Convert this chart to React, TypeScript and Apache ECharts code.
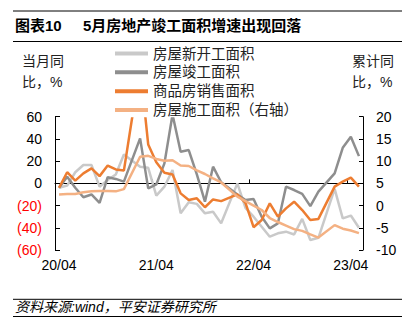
import { useEffect, useRef } from 'react';
import * as echarts from 'echarts';

const FONT = "'Liberation Sans', 'Noto Sans CJK SC', sans-serif";

const categories = [
  '20/04', '20/05', '20/06', '20/07', '20/08', '20/09', '20/10', '20/11', '20/12',
  '21/01', '21/02', '21/03', '21/04', '21/05', '21/06', '21/07', '21/08', '21/09', '21/10', '21/11', '21/12',
  '22/01', '22/02', '22/03', '22/04', '22/05', '22/06', '22/07', '22/08', '22/09', '22/10', '22/11', '22/12',
  '23/01', '23/02', '23/03', '23/04', '23/05',
];

const seriesNames = ['房屋新开工面积', '房屋竣工面积', '商品房销售面积', '房屋施工面积（右轴）'];
const seriesColors = ['#c9c9c9', '#8e8e8e', '#ed7d31', '#f4b183'];

// 当月同比, % (left axis)
const newStarts = [-4, -2, 10, 16.5, 16.5, -3, 3, 8, 26, null, 15, 14, -11, -3, 12, -27, -17, -18.5, -27, -25.5, -36, null, 0, -22, -30, -39, -48, -45, -43.5, -46, -32, -51, -49, null, -5, -31.5, -29, -40];
const completions = [-4, 6, -4, -12.5, -10, -17.5, 5.5, 4, 1.5, null, 40.5, -4.5, -1, 18, 62, 28.5, 30, 8, -16.5, 15, 1, null, -10, -15, -14, -30, -40.5, -36, -3, -6, -9.5, -20.5, -7.5, null, 9, 32, 42, 24.5];
const sales = [-4, 10, 2.5, 9, 13.5, 6.5, 16, 12.5, 11.5, null, 105, 35, 19, 9.5, 8, -9, -15, -13.5, -21.5, -14.5, -16, null, -10, -17.5, -39.5, -33, -18, -30, -22.5, -16.5, -24, -33, -32, null, -3, 1.5, 5.2, -3];
// 累计同比, % (right axis)
const underConstruction = [2.5, 2.6, 2.6, 3.0, 3.2, 3.3, 3.3, 3.2, 3.7, null, 11.0, 11.2, 10.5, 10.1, 10.2, 9.0, 8.9, 7.9, 7.1, 6.1, 5.2, null, 2.0, 1.0, 0.0, -1.0, -2.8, -3.7, -4.5, -5.3, -5.7, -6.5, -7.2, null, -4.4, -5.2, -5.6, -6.2];

const leftTicks = { min: -60, max: 60, interval: 20 };
const rightTicks = { min: -10, max: 20, interval: 5 };

const seriesData = [newStarts, completions, sales, underConstruction];
const seriesAxis = [0, 0, 0, 1];

export default function App() {
  const ref = useRef<HTMLDivElement>(null);
  useEffect(() => {
    const chart = echarts.init(ref.current!, null, { renderer: 'svg' });
    const option: any = {
      animation: false,
      backgroundColor: '#fff',
      textStyle: { fontFamily: FONT },
      grid: { left: 55, right: 56, top: 116.7, bottom: 76, containLabel: false },
      legend: {
        data: seriesNames,
        orient: 'vertical',
        left: 115,
        top: 46.3,
        padding: 0,
        itemGap: 4.3,
        itemWidth: 33,
        itemHeight: 4,
        icon: 'rect',
        backgroundColor: '#fff',
        textStyle: { fontSize: 14.5, color: '#222', fontFamily: FONT, lineHeight: 14 },
      },
      xAxis: [
        {
          type: 'category',
          data: categories,
          position: 'bottom',
          axisLine: { show: true, onZero: true, onZeroAxisIndex: 0, lineStyle: { color: '#000', width: 1 } },
          axisTick: { show: true, inside: true, length: 4, interval: 11, lineStyle: { color: '#000' } },
          axisLabel: { show: false },
          splitLine: { show: false },
        },
        {
          type: 'category',
          data: categories,
          position: 'bottom',
          axisLine: { show: false, onZero: false },
          axisTick: { show: false },
          axisLabel: { show: true, interval: 11, margin: 8, fontSize: 14, color: '#000', fontFamily: FONT },
          splitLine: { show: false },
        },
      ],
      yAxis: [
        {
          type: 'value',
          min: leftTicks.min,
          max: leftTicks.max,
          interval: leftTicks.interval,
          position: 'left',
          axisLine: { show: true, onZero: false, lineStyle: { color: '#000', width: 1 } },
          axisTick: { show: true, inside: true, length: 5, lineStyle: { color: '#000' } },
          splitLine: { show: false },
          axisLabel: {
            margin: 13,
            fontSize: 14,
            color: '#000',
            fontFamily: FONT,
            formatter: (v: number) => (v < 0 ? `{neg|(${-v})}` : `${v}`),
            rich: { neg: { color: '#ff0000', fontSize: 14, fontFamily: FONT } },
          },
        },
        {
          type: 'value',
          min: rightTicks.min,
          max: rightTicks.max,
          interval: rightTicks.interval,
          position: 'right',
          axisLine: { show: true, onZero: false, lineStyle: { color: '#000', width: 1 } },
          axisTick: { show: true, inside: true, length: 4, lineStyle: { color: '#000' } },
          splitLine: { show: false },
          axisLabel: { margin: 13, fontSize: 14, color: '#000', fontFamily: FONT },
        },
      ],
      series: seriesNames.map((name, i) => ({
        name,
        type: 'line',
        data: seriesData[i],
        xAxisIndex: 0,
        yAxisIndex: seriesAxis[i],
        connectNulls: true,
        symbol: 'none',
        showSymbol: false,
        clip: false,
        lineStyle: { width: 2.5, color: seriesColors[i] },
        itemStyle: { color: seriesColors[i] },
        z: 2 + i * 0.1,
      })),
      graphic: [
        { type: 'line', shape: { x1: 13, y1: 11, x2: 402, y2: 11 }, style: { stroke: '#000', lineWidth: 1 } },
        {
          type: 'text', x: 15, y: 25,
          style: { text: '图表10', font: `bold 15px ${FONT}`, fill: '#000', verticalAlign: 'middle' },
        },
        {
          type: 'text', x: 83, y: 25,
          style: { text: '5月房地产竣工面积增速出现回落', font: `bold 15px ${FONT}`, fill: '#000', verticalAlign: 'middle' },
        },
        { type: 'line', shape: { x1: 13, y1: 41.5, x2: 402, y2: 41.5 }, style: { stroke: '#000', lineWidth: 1 } },
        {
          type: 'text', x: 22, y: 50.5,
          style: { text: '当月同\n比，%', font: `14px ${FONT}`, lineHeight: 21, fill: '#222', verticalAlign: 'top' },
        },
        {
          type: 'text', x: 352, y: 50.5,
          style: { text: '累计同\n比，%', font: `14px ${FONT}`, lineHeight: 21, fill: '#222', verticalAlign: 'top' },
        },
        { type: 'line', shape: { x1: 13, y1: 299.3, x2: 402, y2: 299.3 }, style: { stroke: '#000', lineWidth: 1 } },
        {
          type: 'text', x: 15, y: 307,
          style: { text: '资料来源:wind，平安证券研究所', font: `italic 14px ${FONT}`, fill: '#000', verticalAlign: 'middle' },
        },
        { type: 'line', shape: { x1: 13, y1: 316.5, x2: 402, y2: 316.5 }, style: { stroke: '#000', lineWidth: 1 } },
      ],
    };
    chart.setOption(option);
    return () => chart.dispose();
  }, []);
  return <div ref={ref} style={{ position: 'fixed', left: 0, top: 0, width: 419, height: 326 }} />;
}
